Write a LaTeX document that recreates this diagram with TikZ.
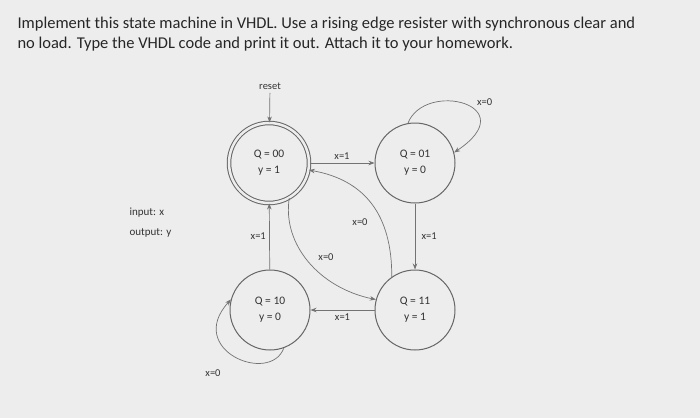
\documentclass[tikz,border=0pt]{standalone}
\usepackage{fontspec}
\setmainfont{Carlito}
\usetikzlibrary{arrows.meta}
\begin{document}
\begin{tikzpicture}[x=1pt,y=-1pt,
  st/.style={circle,draw=black!60,line width=1pt,minimum size=80pt,inner sep=0pt,align=center,font=\fontsize{11.5}{16}\selectfont,text=black!80},
  ed/.style={draw=black!55,line width=0.7pt,-{Stealth[length=6pt,width=4.5pt]}},
  lb/.style={font=\fontsize{10.5}{12}\selectfont,text=black!80}]
\fill[black!7] (0,0) rectangle (700,418);
\node[anchor=west,font=\fontsize{16.5}{20}\selectfont,text=black!85,align=left] (title) at (14,34) {Implement this state machine in VHDL. Use a rising edge resister with synchronous clear and\\no load. Type the VHDL code and print it out. Attach it to your homework.};
\node[st,double=black!7,double distance=2.5pt] (a) at (269,163) {Q = 00\\y = 1};
\node[st] (b) at (415,163) {Q = 01\\y = 0};
\node[st] (c) at (270,310) {Q = 10\\y = 0};
\node[st] (d) at (415,310) {Q = 11\\y = 1};
\node[lb] (reset) at (270,86) {reset};
\draw[ed] (reset) -- (a);
\draw[ed] (a) -- node[lb,above] {x=1} (b);
\draw[ed] (b.100) .. controls (425,80) and (525,105) .. node[lb,pos=0.6,above right] {x=0} (b.15);
\draw[ed] (b) -- node[lb,right,xshift=3pt] {x=1} (d);
\draw[ed] (d.125) .. controls (392,215) and (365,180) .. (a.-10);
\node[lb] (l1) at (360,222) {x=0};
\draw[ed] (a.-60) .. controls (282,245) and (320,288) .. (d.165);
\node[lb] (l2) at (326,257) {x=0};
\draw[ed] (c) -- node[lb,left] {x=1} (a);
\draw[ed] (d) -- node[lb,below] {x=1} (c);
\draw[ed] (c.-70) .. controls (270,385) and (185,350) .. (c.165);
\node[lb] (l3) at (213,373) {x=0};
\node[lb,anchor=west,align=left,font=\fontsize{11}{20}\selectfont] (io) at (126,223) {input: x\\output: y};
\end{tikzpicture}
\end{document}
